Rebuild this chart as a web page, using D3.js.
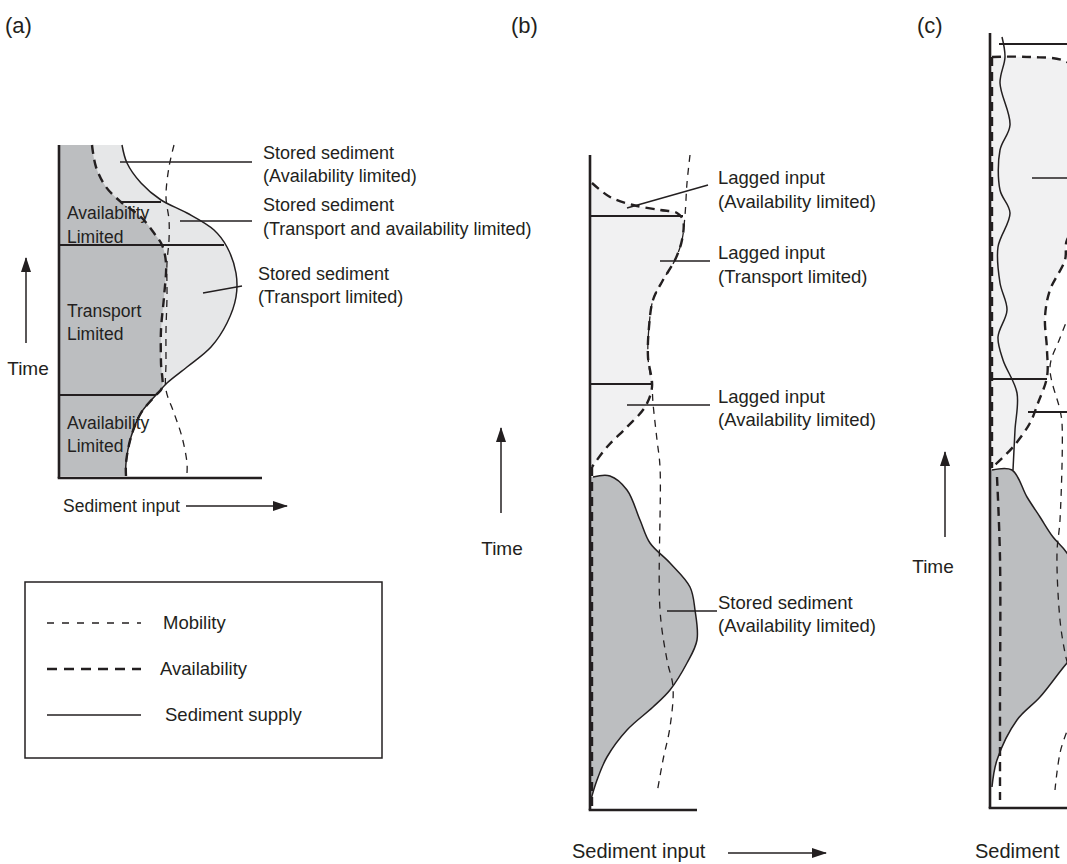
<!DOCTYPE html>
<html>
<head>
<meta charset="utf-8">
<script src="https://cdn.jsdelivr.net/npm/d3@7"></script>
<style>
  body { margin: 0; background: #fff; }
  text { font-family: "Liberation Sans", Arial, Helvetica, sans-serif; fill: #231f20; }
</style>
</head>
<body>
<div id="chart"></div>
<script>
// all curves are [sediment input, time], one unit = one pixel of the original

// ---- panel (a) ----
const supplyA = [[63,333],[68,315],[82,295],[102,278],[128,265],[155,248],[168,231],[177,205],[177,181],[168,155],[152,131],[128,111],[108,95],[97,83],[82,65],[72,41],[67,15],[67,2]];
const availA = [[33,333],[37,311],[47,291],[62,276],[82,261],[95,245],[103,233],[107,215],[105,181],[102,148],[102,115],[103,90],[97,83],[82,65],[72,41],[67,15],[67,2]];
const mobilityA = [[115,333],[110,311],[107,281],[110,258],[110,238],[108,215],[108,181],[107,148],[107,115],[107,88],[115,65],[123,41],[128,15],[128,5]];
const regimeA = [[0,165,233],[0,97,83],[63,102,276]];   // [from, to, time]
const regimeNamesA = [["Availability","Limited"],["Transport","Limited"],["Availability","Limited"]];
const leadersA = [[[61,316],[193,316]],[[121,257],[193,257]],[[144,185],[183,192]]];
const notesA = [["Stored sediment","(Availability limited)"],["Stored sediment","(Transport and availability limited)"],["Stored sediment","(Transport limited)"]];

// ---- panel (b) ----
const availB = [[2,627],[20,613],[43,605],[70,600],[87,597],[93,590],[92,570],[85,550],[73,530],[63,510],[59,483],[58,453],[62,423],[55,403],[37,383],[17,363],[2,343]];
const availLowB = [[2,343],[2,0]];
const mobilityB = [[100,655],[97,627],[95,595],[92,570],[85,550],[73,530],[63,510],[59,483],[58,453],[62,423],[63,407],[67,370],[70,343],[70,200],[77,150],[83,123],[80,83],[73,50],[67,17]];
const storedB = [[3,333],[20,334],[37,320],[50,290],[60,267],[80,247],[100,223],[105,200],[107,170],[97,147],[80,120],[63,103],[37,80],[17,53],[7,30],[0,7]];
const regimeB = [[0,93,594],[0,62,426]];
const leadersB = [[[37,602],[118,625]],[[70,549],[120,549]],[[37,405],[120,405]],[[77,199],[127,199]]];
const notesB = [["Lagged input","(Availability limited)"],["Lagged input","(Transport limited)"],["Lagged input","(Availability limited)"],["Stored sediment","(Availability limited)"]];

// ---- panel (c) ----
const availC = [[2,751],[40,751],[77,746],[105,715],[110,650],[95,590],[77,568],[75,548],[60,518],[55,491],[57,458],[57,431],[48,405],[40,385],[23,361],[7,345],[2,340]];
const availLeftC = [[2,751],[2,340]];
const availLowC = [[7,331],[10,250],[10,100],[10,8]];
const supplyC = [[12,771],[15,751],[10,725],[20,683],[10,658],[10,618],[20,595],[8,561],[10,525],[17,498],[8,471],[13,448],[27,415],[25,378],[23,338]];
const mobilityC = [[90,520],[70,470],[60,441],[70,398],[72,385],[70,288],[67,255],[70,188],[75,155],[85,108],[70,55],[65,18]];
const storedC = [[2,338],[22,338],[37,311],[50,291],[63,271],[77,255],[95,218],[100,188],[90,158],[77,145],[50,111],[27,88],[7,48],[2,21]];
const regimeC = [[0,57,429],[38,110,396],[9,110,764]];
const leadersC = [[[42,630],[110,630]]];

const legendItems = ["Mobility", "Availability", "Sediment supply"];

const W = 1067, H = 864;
const ink = "#231f20", dark = "#bcbec0", lightA = "#e6e7e8", lightB = "#f1f1f2";

const svg = d3.select("#chart").append("svg").attr("width", W).attr("height", H);

svg.append("defs").append("marker")
  .attr("id", "head").attr("viewBox", "0 0 15 10")
  .attr("refX", 14).attr("refY", 5)
  .attr("markerWidth", 15).attr("markerHeight", 10)
  .attr("markerUnits", "userSpaceOnUse").attr("orient", "auto")
  .append("path").attr("d", "M0,0L15,5L0,10z").attr("fill", ink);

const curve = d3.curveCatmullRom.alpha(0.5);

function scales(ox, oy, xmax, tmax) {
  return {
    x: d3.scaleLinear().domain([0, xmax]).range([ox, ox + xmax]),
    y: d3.scaleLinear().domain([0, tmax]).range([oy, oy - tmax])
  };
}
function lineGen(s) { return d3.line().x(d => s.x(d[0])).y(d => s.y(d[1])).curve(curve); }
function areaGen(s) { return d3.area().y(d => s.y(d[1])).x0(s.x(0)).x1(d => s.x(d[0])).curve(curve); }

function fill(g, s, data, color) {
  g.append("path").datum(data).attr("d", areaGen(s)).attr("fill", color);
}
function stroke(g, s, data, kind) {
  const p = g.append("path").datum(data).attr("d", lineGen(s)).attr("fill", "none").attr("stroke", ink);
  if (kind === "supply") p.attr("stroke-width", 1.5);
  if (kind === "avail") p.attr("stroke-width", 2.4).attr("stroke-dasharray", "9,6");
  if (kind === "mob") p.attr("stroke-width", 1.3).attr("stroke-dasharray", "7,6");
  if (kind === "outline") p.attr("stroke-width", 1.5);
}
function regimes(g, s, rows) {
  g.selectAll(null).data(rows).enter().append("line")
    .attr("x1", d => s.x(d[0])).attr("x2", d => s.x(d[1]))
    .attr("y1", d => s.y(d[2])).attr("y2", d => s.y(d[2]))
    .attr("stroke", ink).attr("stroke-width", 2.2);
}
function leaders(g, s, rows) {
  g.selectAll(null).data(rows).enter().append("line")
    .attr("x1", d => s.x(d[0][0])).attr("y1", d => s.y(d[0][1]))
    .attr("x2", d => s.x(d[1][0])).attr("y2", d => s.y(d[1][1]))
    .attr("stroke", ink).attr("stroke-width", 1.4);
}
function axes(g, s, tmax, xmax) {
  g.append("line").attr("x1", s.x(0)).attr("x2", s.x(0)).attr("y1", s.y(0)).attr("y2", s.y(tmax))
    .attr("stroke", ink).attr("stroke-width", 2.6);
  g.append("line").attr("x1", s.x(0) - 1.3).attr("x2", s.x(xmax)).attr("y1", s.y(0)).attr("y2", s.y(0))
    .attr("stroke", ink).attr("stroke-width", 2.6);
}
function note(lines, x, y, size, gap) {
  const t = svg.append("text").attr("x", x).attr("y", y).attr("font-size", size);
  lines.forEach((l, i) => t.append("tspan").attr("x", x).attr("dy", i ? gap : 0).text(l));
}
function arrow(x1, y1, x2, y2) {
  svg.append("line").attr("x1", x1).attr("y1", y1).attr("x2", x2).attr("y2", y2)
    .attr("stroke", ink).attr("stroke-width", 1.5).attr("marker-end", "url(#head)");
}

// ================= (a) =================
const sa = scales(59, 478, 203, 333);
const ga = svg.append("g");
fill(ga, sa, supplyA, lightA);
fill(ga, sa, availA, dark);
regimes(ga, sa, regimeA);
stroke(ga, sa, supplyA, "supply");
stroke(ga, sa, availA, "avail");
stroke(ga, sa, mobilityA, "mob");
leaders(ga, sa, leadersA);
axes(ga, sa, 333, 203);

note(regimeNamesA[0], 67, 219, 17.5, 24);
note(regimeNamesA[1], 67, 317, 17.5, 23);
note(regimeNamesA[2], 67, 429, 17.5, 23);
note(notesA[0], 263, 159, 18, 23);
note(notesA[1], 263, 211, 18, 24);
note(notesA[2], 258, 280, 18, 23);

svg.append("text").attr("x", 5).attr("y", 33).attr("font-size", 22).text("(a)");
svg.append("text").attr("x", 28).attr("y", 375).attr("font-size", 19).attr("text-anchor", "middle").text("Time");
arrow(26, 343, 26, 258);
svg.append("text").attr("x", 63).attr("y", 512).attr("font-size", 17.5).text("Sediment input");
arrow(186, 506, 287, 506);

// legend
const lg = svg.append("g");
lg.append("rect").attr("x", 25).attr("y", 582).attr("width", 357).attr("height", 176)
  .attr("fill", "none").attr("stroke", ink).attr("stroke-width", 1.5);
const legY = d3.scalePoint().domain(legendItems).range([623, 715]);
const legDash = { "Mobility": ["7,8", 1.4, 163], "Availability": ["10,7", 2.6, 160], "Sediment supply": [null, 1.5, 165] };
legendItems.forEach(k => {
  lg.append("line").attr("x1", 47).attr("x2", 141).attr("y1", legY(k)).attr("y2", legY(k))
    .attr("stroke", ink).attr("stroke-width", legDash[k][1]).attr("stroke-dasharray", legDash[k][0]);
  lg.append("text").attr("x", legDash[k][2]).attr("y", legY(k) + 6).attr("font-size", 18.5).text(k);
});

// ================= (b) =================
const sb = scales(590, 810, 107, 655);
const gb = svg.append("g");
fill(gb, sb, availB, lightB);
fill(gb, sb, storedB, dark);
regimes(gb, sb, regimeB);
stroke(gb, sb, storedB, "outline");
stroke(gb, sb, mobilityB, "mob");
stroke(gb, sb, availB, "avail");
stroke(gb, sb, availLowB, "avail");
leaders(gb, sb, leadersB);
axes(gb, sb, 655, 107);

note(notesB[0], 718, 184, 18.5, 24);
note(notesB[1], 718, 259, 18.5, 24);
note(notesB[2], 718, 403, 18.5, 23);
note(notesB[3], 718, 609, 18.5, 23);

svg.append("text").attr("x", 511).attr("y", 33).attr("font-size", 22).text("(b)");
svg.append("text").attr("x", 502).attr("y", 555).attr("font-size", 19).attr("text-anchor", "middle").text("Time");
arrow(501, 513, 501, 428);
svg.append("text").attr("x", 572).attr("y", 858).attr("font-size", 20).text("Sediment input");
arrow(728, 853, 826, 853);

// ================= (c) =================
const sc = scales(990, 808, 110, 775);
const gc = svg.append("g");
fill(gc, sc, availC, lightB);
fill(gc, sc, storedC, dark);
regimes(gc, sc, regimeC);
stroke(gc, sc, storedC, "outline");
stroke(gc, sc, supplyC, "supply");
stroke(gc, sc, mobilityC, "mob");
stroke(gc, sc, availC, "avail");
stroke(gc, sc, availLeftC, "avail");
stroke(gc, sc, availLowC, "avail");
leaders(gc, sc, leadersC);
axes(gc, sc, 775, 110);

svg.append("text").attr("x", 917).attr("y", 33).attr("font-size", 22).text("(c)");
svg.append("text").attr("x", 933).attr("y", 573).attr("font-size", 19).attr("text-anchor", "middle").text("Time");
arrow(945, 537, 945, 452);
// the figure is cropped at the right edge: only the first word of the axis title shows
svg.append("text").attr("x", 975).attr("y", 858).attr("font-size", 20).text("Sediment");
</script>
</body>
</html>
